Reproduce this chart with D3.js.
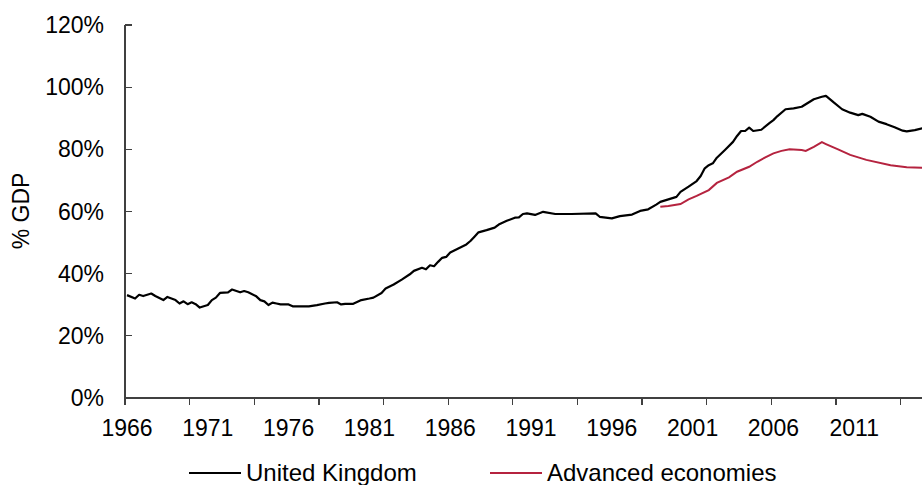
<!DOCTYPE html>
<meta charset="utf-8">
<style>
body { margin: 0; background: #fff; }
text { font-family: "Liberation Sans", Arial, sans-serif; font-size: 23px; fill: #000; }
.legend text { font-size: 24px; }
.axis line, .axis path { stroke: #404040; stroke-width: 1.3px; shape-rendering: crispEdges; }
</style>
<svg width="922" height="485"></svg>
<script src="https://d3js.org/d3.v7.min.js"></script>
<script>

// quarters as decimal years (1966.25 = 1966Q2), values in % of GDP
var ukQuarters = [1966.00, 1966.50, 1966.75, 1967.00, 1967.50, 1967.75, 1968.25, 1968.50, 1969.00, 1969.25,
  1969.50, 1969.75, 1970.00, 1970.25, 1970.50, 1971.00, 1971.25, 1971.50, 1971.75, 1972.25,
  1972.50, 1973.00, 1973.25, 1973.50, 1974.00, 1974.25, 1974.50, 1974.75, 1975.00, 1975.25,
  1975.50, 1976.00, 1976.25, 1976.75, 1977.25, 1977.75, 1978.25, 1978.50, 1979.00, 1979.25,
  1979.50, 1980.00, 1980.50, 1981.00, 1981.25, 1981.75, 1982.00, 1982.50, 1983.00, 1983.50,
  1983.75, 1984.25, 1984.50, 1984.75, 1985.00, 1985.25, 1985.50, 1985.75, 1986.00, 1986.50,
  1987.00, 1987.25, 1987.50, 1987.75, 1988.25, 1988.75, 1989.00, 1989.50, 1990.00, 1990.25,
  1990.50, 1990.75, 1991.25, 1991.75, 1992.50, 1993.50, 1995.00, 1995.25, 1996.00, 1996.50,
  1997.25, 1997.75, 1998.25, 1998.75, 1999.00, 1999.50, 2000.00, 2000.25, 2000.75, 2001.25,
  2001.50, 2001.75, 2002.00, 2002.25, 2002.50, 2003.00, 2003.50, 2003.75, 2004.00, 2004.25,
  2004.50, 2004.75, 2005.25, 2005.75, 2006.00, 2006.25, 2006.75, 2007.25, 2007.75, 2008.00,
  2008.50, 2009.00, 2009.25, 2009.75, 2010.25, 2010.75, 2011.25, 2011.50, 2012.00, 2012.50,
  2013.00, 2013.50, 2014.00, 2014.25, 2014.75, 2015.25];
var ukDebt = [33.1, 32.0, 33.2, 32.8, 33.6, 32.8, 31.5, 32.5, 31.5, 30.4,
  31.1, 30.2, 30.8, 30.2, 29.1, 29.9, 31.5, 32.3, 33.8, 34.0,
  34.9, 34.0, 34.4, 34.0, 32.7, 31.5, 31.1, 29.9, 30.7, 30.4,
  30.1, 30.1, 29.5, 29.5, 29.5, 29.9, 30.4, 30.6, 30.8, 30.1,
  30.3, 30.3, 31.5, 32.0, 32.3, 33.8, 35.2, 36.5, 38.1, 39.8,
  40.9, 41.9, 41.4, 42.7, 42.4, 43.8, 45.1, 45.4, 46.8, 48.1,
  49.4, 50.5, 51.9, 53.3, 54.0, 54.8, 55.8, 57.0, 58.0, 58.1,
  59.2, 59.4, 58.9, 59.9, 59.2, 59.2, 59.4, 58.3, 57.8, 58.5,
  59.0, 60.2, 60.7, 62.2, 63.1, 63.9, 64.7, 66.3, 68.0, 69.8,
  71.4, 73.9, 74.9, 75.5, 77.3, 79.8, 82.4, 84.3, 85.9, 85.9,
  87.0, 85.9, 86.3, 88.4, 89.4, 90.7, 92.9, 93.2, 93.7, 94.5,
  96.1, 96.9, 97.2, 95.0, 92.9, 91.8, 91.0, 91.4, 90.5, 88.9,
  88.1, 87.1, 86.0, 85.8, 86.2, 86.8];

var aeQuarters = [1999.00, 1999.50, 2000.25, 2000.75, 2001.25, 2002.00, 2002.50, 2003.25, 2003.75, 2004.50,
  2005.00, 2005.50, 2006.00, 2006.50, 2007.00, 2007.75, 2008.00, 2008.50, 2009.00, 2009.25,
  2010.00, 2010.75, 2011.75, 2013.25, 2014.25, 2015.25];
var aeDebt = [61.5, 61.8, 62.4, 63.9, 65.0, 66.9, 69.2, 71.0, 72.8, 74.4,
  76.0, 77.4, 78.7, 79.5, 80.0, 79.8, 79.5, 80.8, 82.3, 81.7,
  80.0, 78.2, 76.6, 74.9, 74.2, 74.1];

var yTicks = [0, 20, 40, 60, 80, 100, 120];
var xLabelYears = [1966, 1971, 1976, 1981, 1986, 1991, 1996, 2001, 2006, 2011];
var xTickYears = d3.range(1966, 2016, 4);

var uk_colour = "#000000";
var ae_colour = "#b5233f";

var svg = d3.select("svg");

var plotLeft = 125, plotTop = 25, plotBottom = 398;
var x = d3.scaleLinear().domain([1966, 2015.5]).range([plotLeft, plotLeft + 49.5 * 16.16]);
var y = d3.scaleLinear().domain([0, 120]).range([plotBottom, plotTop]);

// quarters are drawn at the middle of their slot
function qx(t) { return x(t + 0.125); }

// y axis, ticks pointing into the plot
var yAxis = svg.append("g").attr("class", "axis");
yAxis.append("line")
    .attr("x1", plotLeft).attr("x2", plotLeft)
    .attr("y1", y(120)).attr("y2", plotBottom);
yAxis.selectAll(".tick")
    .data(yTicks)
    .enter().append("line")
    .attr("x1", plotLeft).attr("x2", plotLeft + 7)
    .attr("y1", function(d) { return y(d); })
    .attr("y2", function(d) { return y(d); });
svg.selectAll(".ylab")
    .data(yTicks)
    .enter().append("text")
    .attr("class", "ylab")
    .attr("x", 104)
    .attr("y", function(d) { return y(d); })
    .attr("dy", "0.35em")
    .attr("text-anchor", "end")
    .text(function(d) { return d + "%"; });

// x axis: tick marks every 4 years, labels every 5
var xAxis = svg.append("g").attr("class", "axis");
xAxis.append("line")
    .attr("x1", plotLeft).attr("x2", 922)
    .attr("y1", plotBottom).attr("y2", plotBottom);
xAxis.selectAll(".tick")
    .data(xTickYears)
    .enter().append("line")
    .attr("x1", function(d) { return x(d); })
    .attr("x2", function(d) { return x(d); })
    .attr("y1", plotBottom).attr("y2", plotBottom + 7);
svg.selectAll(".xlab")
    .data(xLabelYears)
    .enter().append("text")
    .attr("class", "xlab")
    .attr("x", function(d) { return qx(d); })
    .attr("y", 436)
    .attr("text-anchor", "middle")
    .text(function(d) { return d; });

// axis title
svg.append("text")
    .attr("transform", "translate(29,211) rotate(-90)")
    .attr("text-anchor", "middle")
    .text("% GDP");

// series
var line = d3.line()
    .x(function(d) { return qx(d[0]); })
    .y(function(d) { return y(d[1]); });

svg.append("path")
    .datum(d3.zip(aeQuarters, aeDebt))
    .attr("d", line)
    .style("fill", "none")
    .style("stroke", ae_colour)
    .style("stroke-width", 2);

svg.append("path")
    .datum(d3.zip(ukQuarters, ukDebt))
    .attr("d", line)
    .style("fill", "none")
    .style("stroke", uk_colour)
    .style("stroke-width", 2.2)
    .style("stroke-linejoin", "round");

// legend
var legend = svg.append("g").attr("class", "legend");
function addLegend(x0, colour, label) {
  legend.append("line")
     .attr("x1", x0).attr("x2", x0 + 52)
     .attr("y1", 473).attr("y2", 473)
     .style("stroke", colour)
     .style("stroke-width", 2);
  legend.append("text")
     .attr("x", x0 + 57)
     .attr("y", 481)
     .text(label);
}
addLegend(189, uk_colour, "United Kingdom");
addLegend(490, ae_colour, "Advanced economies");

</script>
